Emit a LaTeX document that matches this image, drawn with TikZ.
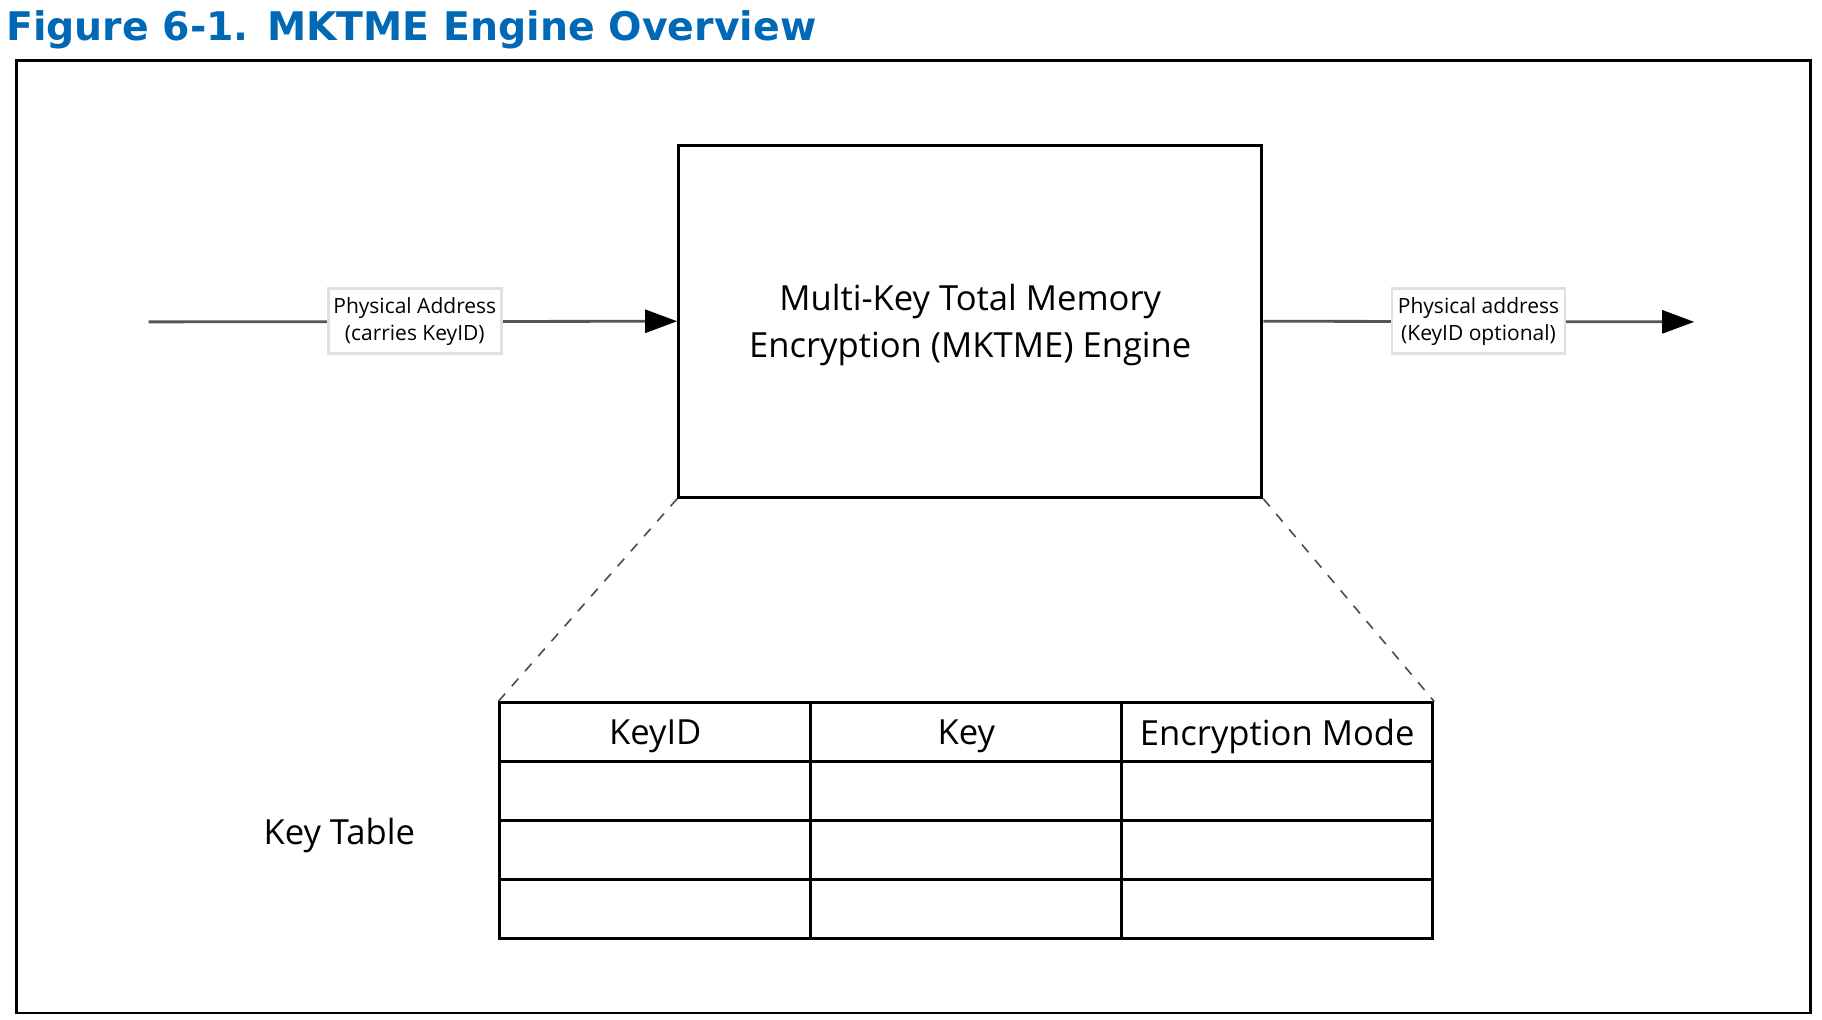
\documentclass[tikz,border=0pt]{standalone}
\usepackage{fontspec}
\setmainfont{Open Sans}
\newfontfamily\titlefont{DejaVu Sans}
\usetikzlibrary{arrows.meta}
\usetikzlibrary{positioning}
\definecolor{figblue}{RGB}{0,104,181}
\definecolor{linegray}{RGB}{85,85,85}

\begin{document}
\begin{tikzpicture}[x=0.5pt,y=-0.5pt]
	\tikzset{engine/.style = {shape=rectangle,draw,line width=1.5pt,minimum width=291.6pt,
			minimum height=176pt,inner sep=0pt,align=center,
			font=\fontsize{17.3}{23.2}\selectfont}}
	\tikzset{tag/.style = {shape=rectangle,draw=black!12,fill=white,line width=1.4pt,
			minimum width=86.5pt,minimum height=32.5pt,inner sep=0pt,align=center,
			font=\fontsize{10.5}{13.5}\selectfont}}
	\tikzset{flow/.style = {-{Triangle[length=16pt,width=11.5pt,black]},line width=1.4pt,draw=linegray}}
	\tikzset{zoomline/.style = {dash pattern=on 5pt off 5pt,line width=0.8pt,draw=black!70}}
	\tikzset{cell/.style = {shape=rectangle,draw,line width=1.5pt,minimum width=155.5pt,
			minimum height=29.5pt,inner sep=0pt}}
	\tikzset{plain/.style = {font=\fontsize{17.3}{20}\selectfont}}
	
	\useasboundingbox (0,0) rectangle (1822,1020);
	
	% frame and title
	\node[anchor=base west,inner sep=0pt,text=figblue,
	font=\titlefont\bfseries\fontsize{19.7}{24}\selectfont] (title) at (5.8,40.7)
	{Figure 6-1. MKTME Engine Overview};
	\draw[line width=1.2pt] (16.3,60.4) rectangle (1810.4,1013.3);
	
	% blocks
	\node[engine] (engine) at (970.25,321.25) {};
	\node[engine,draw=none] (enginetext) at (970.25,325) {Multi-Key Total Memory\\Encryption (MKTME) Engine};
	\coordinate (src) at (148.7,321.9);
	\coordinate (dst) at (1694.2,321.9);
	
	% key table
	\foreach \r in {0,...,3}
	\foreach \c in {0,1,2}
	\node[cell] (cell-\r-\c) at ({655.25+311*\c},{732.5+59*\r}) {};
	\foreach \c/\t in {0/KeyID,1/Key,2/Encryption Mode}
	\node[plain] (head-\c) at ([yshift=-2pt]cell-0-\c) {\t};
	\node[plain] (keytable) at (339.3,835.5) {Key Table};
	
	%edges
	\draw[flow] (src) -- (engine.west);
	\draw[flow] (engine.east) -- (dst);
	\draw[zoomline] (engine.south west) -- (cell-0-0.north west);
	\draw[zoomline] (engine.south east) -- (cell-0-2.north east);
	
	% labels on the edges
	\node[tag] (inlabel) at (414.8,321.2) {Physical Address\\(carries KeyID)};
	\node[tag] (outlabel) at (1478.5,321.2) {Physical address\\(KeyID optional)};
\end{tikzpicture}
\end{document}
